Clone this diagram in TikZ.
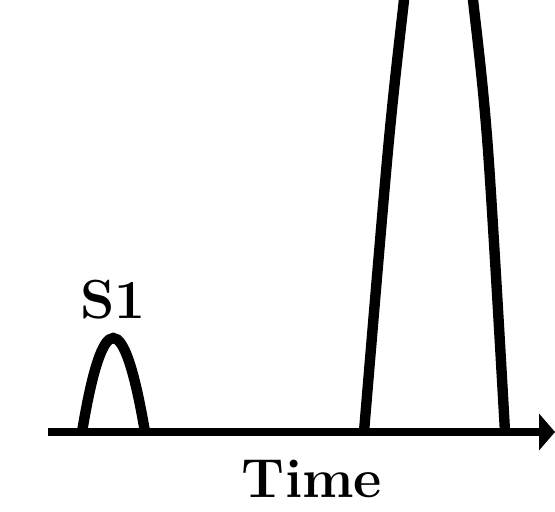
\documentclass[tikz,border=0pt]{standalone}
\usepackage{tikz}
\usetikzlibrary{arrows.meta}

\begin{document}
\begin{tikzpicture}[x=0.5pt, y=-0.5pt, >={Triangle[length=8pt,width=18pt]}]
    \tikzstyle{peak}=[line width=5.2pt]
    \tikzstyle{lbl}=[font=\fontsize{27.5}{32}\selectfont\bfseries, inner sep=0pt]
    \useasboundingbox (0,0) rectangle (555,512);
    \clip (0,0) rectangle (555,512);

    \coordinate (origin) at (48,432);
    \coordinate (tend) at (555,432);

    % small peak
    \draw[peak] (82,432) .. controls (102.7,306.7) and (123.7,306.7) .. (145,432);
    \node[lbl, anchor=base] (s1) at (113,319) {S1};

    % large peak, apex off the top
    \draw[peak] plot[smooth, tension=0.55] coordinates {(364,432) (388,150) (404,0) (416,-100) (438,-180) (460,-100) (473,0) (488,150) (505,432)};

    \draw[->, line width=4pt] (origin) -- (tend);
    \node[lbl, anchor=base] (time) at (312,497) {Time};
\end{tikzpicture}
\end{document}
